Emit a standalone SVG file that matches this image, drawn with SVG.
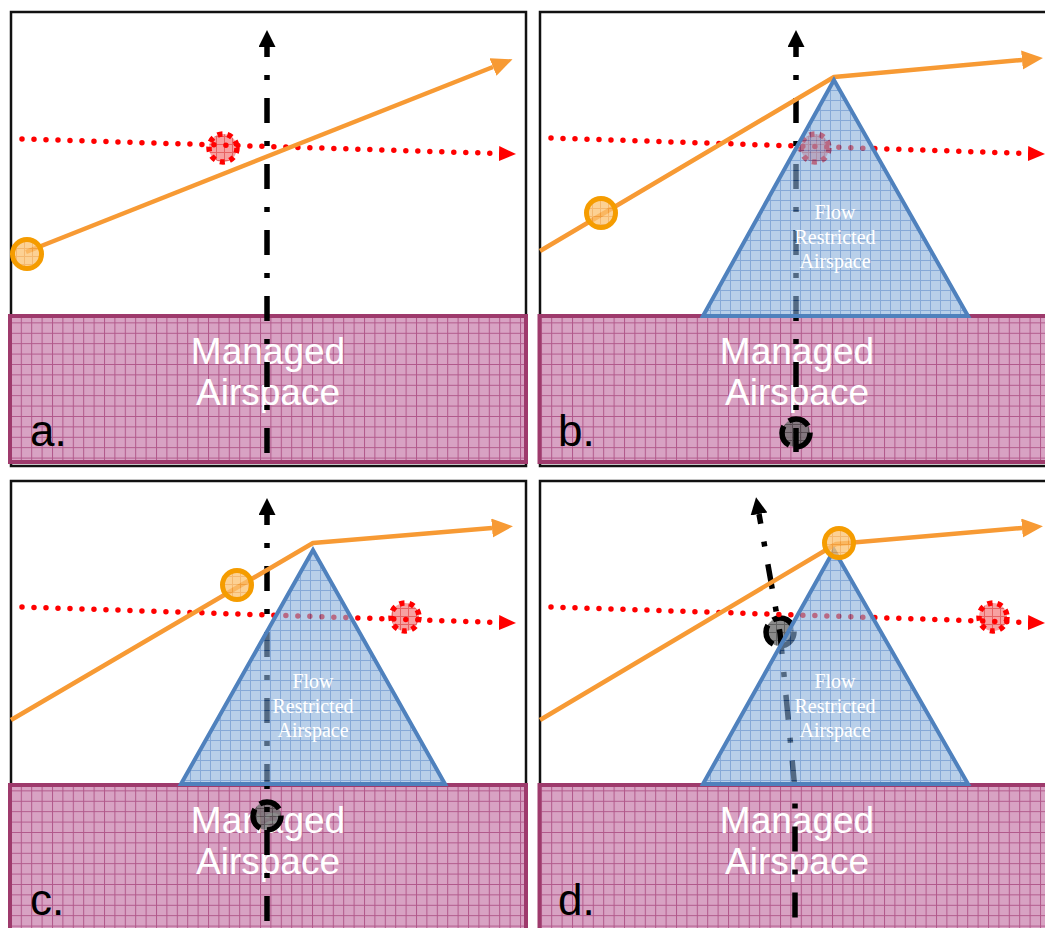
<svg xmlns="http://www.w3.org/2000/svg" width="1045" height="928" viewBox="0 0 1045 928">
<style>
.frame{fill:#fff;stroke:#111;stroke-width:2.5}
.managed{fill:url(#pinkGrid);stroke:#9e3a6c;stroke-width:4}
.mtext{font-family:"Liberation Sans",Arial,sans-serif;font-size:37px;fill:#fff;text-anchor:middle}
.label{font-family:"Liberation Sans",Arial,sans-serif;font-size:44px;fill:#000}
.tri{fill:url(#blueGrid);fill-opacity:0.6;stroke:#4f81bd;stroke-width:4;stroke-linejoin:miter}
.ttext{font-family:"Liberation Serif","Times New Roman",serif;font-size:20px;fill:#fff;text-anchor:middle}
.orange{fill:none;stroke:#f79a34;stroke-width:4.5;stroke-linejoin:round}
.red{fill:none;stroke:#ff0000;stroke-width:5.5;stroke-linecap:round;stroke-dasharray:0 12}
.black{fill:none;stroke:#000;stroke-width:5.5;stroke-dasharray:5 18 25 18;stroke-dashoffset:38}
.ocirc{fill:url(#orangeGrid);fill-opacity:0.75;stroke:#f59c00;stroke-width:5}
.rcirc{fill:url(#redGrid);fill-opacity:0.8;stroke:#ff0000;stroke-width:5.5;stroke-dasharray:5 5}
.bcirc{fill:url(#grayGrid);fill-opacity:0.8;stroke:#000;stroke-width:5.5;stroke-dasharray:22 7}
</style>
<defs>
<pattern id="pinkGrid" patternUnits="userSpaceOnUse" width="10.4" height="10.4">
<rect width="10.4" height="10.4" fill="#d8a2c3"/>
<path d="M0 0.5H10.4M0.5 0V10.4" stroke="#b1588a" stroke-width="1"/>
</pattern>
<pattern id="blueGrid" patternUnits="userSpaceOnUse" width="10" height="10">
<rect width="10" height="10" fill="#89afda"/>
<path d="M0 0.5H10M0.5 0V10" stroke="#3570bd" stroke-width="1"/>
</pattern>
<pattern id="redGrid" patternUnits="userSpaceOnUse" width="8" height="8">
<rect width="8" height="8" fill="#f58a8a"/>
<path d="M0 0.5H8M0.5 0V8" stroke="#e03c3c" stroke-width="1"/>
</pattern>
<pattern id="orangeGrid" patternUnits="userSpaceOnUse" width="8" height="8">
<rect width="8" height="8" fill="#fbc170"/>
<path d="M0 0.5H8M0.5 0V8" stroke="#f0a040" stroke-width="1"/>
</pattern>
<pattern id="grayGrid" patternUnits="userSpaceOnUse" width="8" height="8">
<rect width="8" height="8" fill="#6e6e6e"/>
<path d="M0 0.5H8M0.5 0V8" stroke="#3a3a3a" stroke-width="1"/>
</pattern>
<marker id="arrO" markerUnits="userSpaceOnUse" markerWidth="24" markerHeight="20" refX="0" refY="9.5" orient="auto">
<path d="M0 0L21 9.5L0 19z" fill="#f79a34"/>
</marker>
<marker id="arrR" markerUnits="userSpaceOnUse" markerWidth="18" markerHeight="16" refX="0" refY="7.5" orient="auto">
<path d="M0 0L17 7.5L0 15z" fill="#ff0000"/>
</marker>
<marker id="arrK" markerUnits="userSpaceOnUse" markerWidth="18" markerHeight="18" refX="0" refY="8.5" orient="auto-start-reverse">
<path d="M0 0L17 8.5L0 17z" fill="#000"/>
</marker>
</defs>

<g id="panel-a-frame"><rect class="frame" x="11" y="12" width="515" height="454"/></g>
<g id="panel-b-frame"><rect class="frame" x="540" y="12" width="520" height="454"/></g>
<g id="panel-c-frame"><rect class="frame" x="11" y="481" width="515" height="460"/></g>
<g id="panel-d-frame"><rect class="frame" x="540" y="481" width="520" height="460"/></g>

<g id="managed-a"><rect class="managed" x="10" y="316" width="516" height="146"/>
<text class="mtext" x="268" y="364">Managed</text><text class="mtext" x="268" y="405">Airspace</text></g>
<g id="managed-b"><rect class="managed" x="539.5" y="316" width="520" height="146"/>
<text class="mtext" x="797" y="364">Managed</text><text class="mtext" x="797" y="405">Airspace</text></g>
<g id="managed-c"><rect class="managed" x="10" y="785" width="516" height="160"/>
<text class="mtext" x="268" y="833">Managed</text><text class="mtext" x="268" y="874">Airspace</text></g>
<g id="managed-d"><rect class="managed" x="539.5" y="785" width="520" height="160"/>
<text class="mtext" x="797" y="833">Managed</text><text class="mtext" x="797" y="874">Airspace</text></g>

<g id="labels">
<text class="label" x="30" y="446">a.</text>
<text class="label" x="558" y="446">b.</text>
<text class="label" x="30" y="915">c.</text>
<text class="label" x="558" y="915">d.</text>
</g>

<g id="markers-under">
<circle id="red-a" class="rcirc" cx="223" cy="148" r="14"/>
<circle id="red-b" class="rcirc" cx="815" cy="148" r="14"/>
<circle id="red-c" class="rcirc" cx="405" cy="617" r="14"/>
<circle id="red-d" class="rcirc" cx="993" cy="617" r="14"/>
<circle id="black-b" class="bcirc" cx="796" cy="433" r="14"/>
<circle id="black-c" class="bcirc" cx="267" cy="816" r="14"/>
<circle id="black-d" class="bcirc" cx="780" cy="632" r="14"/>
</g>

<g id="connectors">
<path class="red" d="M22 139L499 153.5" marker-end="url(#arrR)"/>
<path class="red" d="M551 138L1028 153.5" marker-end="url(#arrR)"/>
<path class="red" d="M22 607L499 622.5" marker-end="url(#arrR)"/>
<path class="red" d="M551 607L1028 622.5" marker-end="url(#arrR)"/>
<path class="black" d="M267 47V455" marker-start="url(#arrK)"/>
<path class="black" d="M796 47V452" marker-start="url(#arrK)"/>
<path class="black" d="M267 515V922" marker-start="url(#arrK)"/>
<path class="black" d="M759 514L780 633L795 790V922" marker-start="url(#arrK)"/>
<path class="orange" d="M26 252L493 67" marker-end="url(#arrO)"/>
<path class="orange" d="M540 251L834 77L1022 60" marker-end="url(#arrO)"/>
<path class="orange" d="M11 720L313 543L492 528" marker-end="url(#arrO)"/>
<path class="orange" d="M540 720L836 544L1022 528" marker-end="url(#arrO)"/>
</g>

<g id="flow-b"><polygon class="tri" points="834,80 703,316 968,316"/>
<text class="ttext" x="835" y="219">Flow</text><text class="ttext" x="835" y="244">Restricted</text><text class="ttext" x="835" y="268">Airspace</text></g>
<g id="flow-c"><polygon class="tri" points="313,550 181,784 445,784"/>
<text class="ttext" x="313" y="688">Flow</text><text class="ttext" x="313" y="713">Restricted</text><text class="ttext" x="313" y="737">Airspace</text></g>
<g id="flow-d"><polygon class="tri" points="834,550 703,784 968,784"/>
<text class="ttext" x="835" y="688">Flow</text><text class="ttext" x="835" y="713">Restricted</text><text class="ttext" x="835" y="737">Airspace</text></g>

<g id="markers-over">
<circle id="orange-a" class="ocirc" cx="27" cy="254" r="14.5"/>
<circle id="orange-b" class="ocirc" cx="601" cy="213" r="14.5"/>
<circle id="orange-c" class="ocirc" cx="237" cy="585" r="14.5"/>
<circle id="orange-d" class="ocirc" cx="839" cy="543" r="14.5"/>
</g>
</svg>
